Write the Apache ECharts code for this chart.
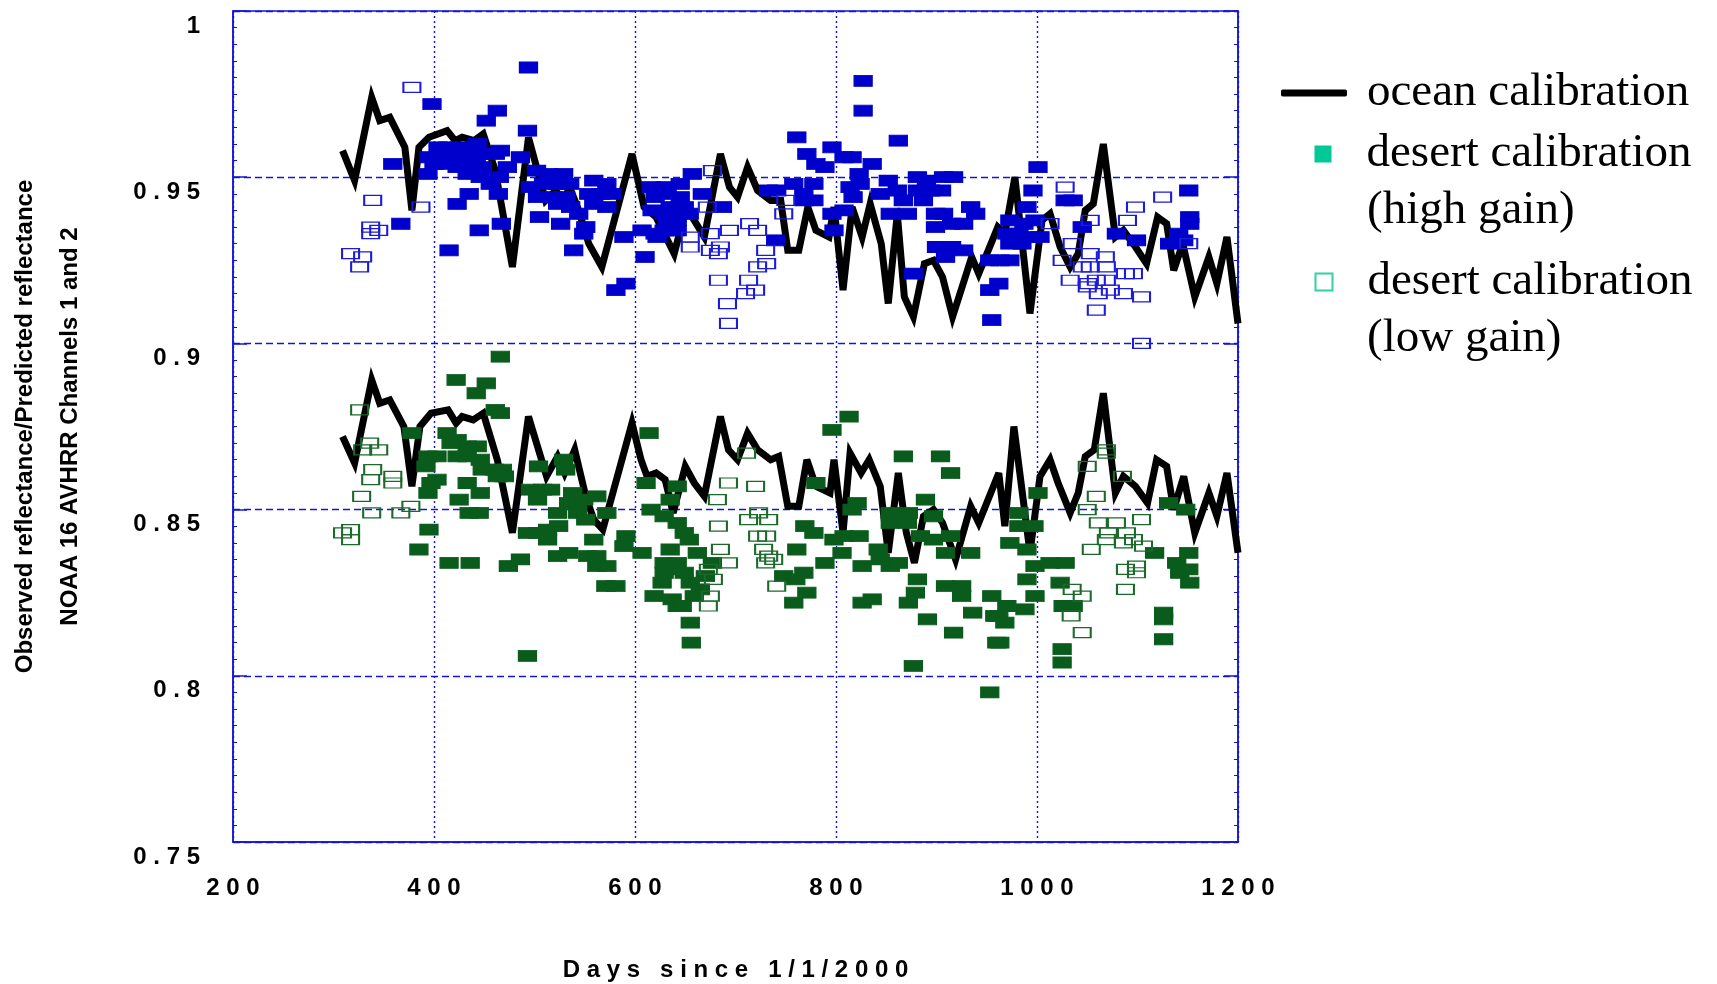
<!DOCTYPE html>
<html>
<head>
<meta charset="utf-8">
<script src="https://cdn.jsdelivr.net/npm/echarts@6/dist/echarts.min.js"></script>
<style>
html,body{margin:0;padding:0;background:#fff;}
#chart{width:1717px;height:984px;}
</style>
</head>
<body>
<div id="chart"></div>
<script>
// ---- data (day since 1/1/2000, observed/predicted reflectance) ----
var xTicks = [200, 400, 600, 800, 1000, 1200];
var yTicks = [0.75, 0.8, 0.85, 0.9, 0.95, 1];

var oceanCh1 = [[309,0.958],[321,0.949],[338,0.974],[346,0.967],[356,0.968],[371,0.959],[378,0.940],[385,0.959],[395,0.962],[413,0.964],[421,0.961],[428,0.962],[440,0.961],[449,0.963],[461,0.952],[478,0.923],[494,0.962],[511,0.943],[521,0.946],[529,0.943],[535,0.947],[544,0.940],[554,0.930],[567,0.923],[597,0.957],[609,0.941],[621,0.938],[639,0.927],[651,0.941],[669,0.932],[685,0.957],[694,0.947],[702,0.944],[712,0.953],[722,0.946],[735,0.943],[745,0.943],[752,0.928],[763,0.928],[772,0.941],[780,0.934],[793,0.932],[798,0.941],[807,0.916],[816,0.941],[826,0.932],[834,0.942],[845,0.930],[852,0.912],[861,0.939],[868,0.914],[877,0.908],[888,0.924],[897,0.925],[906,0.920],[916,0.908],[935,0.926],[942,0.921],[961,0.935],[968,0.933],[978,0.950],[993,0.909],[1005,0.937],[1013,0.939],[1023,0.929],[1033,0.923],[1041,0.927],[1048,0.940],[1056,0.942],[1066,0.960],[1078,0.932],[1086,0.934],[1098,0.929],[1109,0.924],[1120,0.938],[1129,0.936],[1136,0.922],[1145,0.930],[1157,0.914],[1171,0.926],[1179,0.918],[1189,0.932],[1200,0.906]];

var oceanCh2 = [[309,0.872],[321,0.864],[338,0.889],[346,0.882],[356,0.883],[370,0.875],[378,0.857],[386,0.875],[397,0.879],[414,0.880],[422,0.876],[428,0.878],[439,0.877],[449,0.879],[463,0.865],[478,0.843],[494,0.878],[512,0.860],[523,0.866],[530,0.861],[540,0.868],[551,0.854],[559,0.847],[568,0.844],[597,0.876],[606,0.865],[612,0.860],[621,0.861],[630,0.859],[638,0.849],[650,0.863],[659,0.858],[669,0.854],[685,0.878],[693,0.868],[702,0.865],[712,0.873],[722,0.868],[735,0.865],[743,0.866],[752,0.851],[763,0.851],[771,0.865],[780,0.857],[794,0.855],[798,0.865],[807,0.843],[814,0.867],[825,0.861],[833,0.865],[844,0.857],[852,0.837],[862,0.861],[870,0.843],[878,0.834],[887,0.848],[897,0.850],[906,0.846],[919,0.835],[934,0.851],[942,0.846],[962,0.861],[968,0.845],[977,0.875],[993,0.837],[1003,0.860],[1013,0.865],[1021,0.858],[1033,0.849],[1041,0.855],[1048,0.866],[1057,0.868],[1066,0.885],[1078,0.855],[1086,0.860],[1098,0.857],[1110,0.852],[1119,0.865],[1129,0.863],[1136,0.850],[1146,0.860],[1157,0.843],[1171,0.855],[1179,0.848],[1189,0.861],[1200,0.837]];

var desertHighCh1 = [[494,0.983],[398,0.972],[463,0.970],[452,0.967],[493,0.964],[443,0.960],[404,0.959],[414,0.959],[425,0.959],[435,0.958],[395,0.956],[407,0.956],[418,0.956],[430,0.956],[442,0.956],[450,0.957],[400,0.954],[412,0.954],[423,0.953],[437,0.954],[448,0.953],[394,0.951],[466,0.958],[461,0.957],[486,0.956],[473,0.953],[465,0.950],[359,0.954],[433,0.951],[446,0.950],[456,0.948],[435,0.945],[464,0.945],[423,0.942],[367,0.936],[445,0.934],[467,0.936],[415,0.928],
[502,0.952],[514,0.951],[529,0.951],[496,0.947],[509,0.948],[523,0.948],[535,0.948],[503,0.944],[518,0.944],[531,0.944],[505,0.938],[523,0.942],[536,0.941],[526,0.936],[544,0.939],[551,0.935],[549,0.933],[539,0.928],[559,0.949],[572,0.948],[554,0.945],[566,0.945],[577,0.945],[559,0.942],[572,0.941],[589,0.932],[581,0.916],[591,0.918],[610,0.926],[616,0.947],[630,0.947],[617,0.940],[629,0.939],[639,0.938],[607,0.934],[620,0.933],[632,0.936],[642,0.934],
[827,0.979],[827,0.970],[761,0.962],[771,0.957],[796,0.959],[780,0.954],[789,0.953],[808,0.956],[816,0.956],[836,0.954],[862,0.961],[823,0.951],[814,0.947],[817,0.944],[824,0.948],[657,0.951],[645,0.948],[620,0.944],[632,0.945],[645,0.944],[667,0.945],[635,0.941],[649,0.941],[642,0.937],[654,0.939],[629,0.934],[640,0.934],[622,0.932],[687,0.941],[733,0.946],[741,0.946],[758,0.948],[778,0.948],[768,0.945],[778,0.943],[768,0.943],[740,0.931],[796,0.939],[798,0.934],[808,0.940],[852,0.949],[844,0.945],[861,0.946],[881,0.950],[890,0.949],[907,0.950],[917,0.950],[881,0.946],[894,0.946],[905,0.946],[867,0.943],[887,0.943],[854,0.939],[871,0.939],[899,0.939],[907,0.939],[934,0.941],[939,0.939],[899,0.935],[915,0.936],[927,0.936],[900,0.929],[915,0.929],[927,0.928],[909,0.926],[877,0.921],[953,0.925],[953,0.916],[955,0.907],
[1001,0.953],[996,0.946],[1028,0.943],[1036,0.943],[990,0.941],[973,0.937],[987,0.936],[998,0.937],[970,0.933],[982,0.933],[995,0.932],[1003,0.932],[973,0.930],[985,0.930],[963,0.925],[973,0.925],[962,0.918],[1045,0.935],[1151,0.946],[1152,0.938],[1152,0.936],[1141,0.933],[1132,0.930],[1146,0.931],[1079,0.933],[1099,0.931]];

var desertLowCh1 = [[378,0.977],[339,0.943],[387,0.941],[337,0.935],[345,0.934],[337,0.933],[317,0.927],[329,0.926],[326,0.923],
[677,0.952],[672,0.941],[750,0.943],[748,0.939],[714,0.936],[694,0.934],[722,0.934],[675,0.933],[655,0.932],[655,0.929],[675,0.928],[685,0.929],[683,0.927],[730,0.928],[731,0.924],[722,0.923],[683,0.919],[713,0.919],[710,0.915],[720,0.916],[692,0.912],[693,0.906],
[1028,0.947],[1013,0.936],[1053,0.937],[1090,0.937],[1098,0.941],[1125,0.944],[1035,0.930],[1025,0.925],[1045,0.923],[1053,0.923],[1068,0.926],[1069,0.923],[1033,0.919],[1051,0.918],[1059,0.919],[1069,0.919],[1061,0.915],[1073,0.916],[1088,0.921],[1096,0.921],[1050,0.917],[1086,0.915],[1104,0.914],[1059,0.910],[1104,0.900],[1053,0.927],[1151,0.930]];

var desertHighCh2 = [[466,0.896],[422,0.889],[452,0.888],[442,0.885],[461,0.880],[466,0.879],[378,0.873],[413,0.873],[423,0.871],[433,0.869],[443,0.869],[417,0.870],[394,0.866],[403,0.866],[423,0.866],[433,0.866],[446,0.865],[392,0.863],[448,0.862],[460,0.862],[468,0.862],[463,0.860],[470,0.860],[403,0.859],[397,0.858],[394,0.855],[433,0.858],[446,0.855],[425,0.853],[435,0.849],[445,0.849],
[504,0.863],[529,0.865],[531,0.862],[496,0.856],[508,0.856],[516,0.856],[503,0.853],[538,0.855],[534,0.852],[523,0.849],[543,0.852],[549,0.853],[562,0.854],[543,0.849],[551,0.847],[572,0.849],[493,0.843],[503,0.843],[513,0.844],[524,0.845],[513,0.841],[614,0.873],[611,0.858],[616,0.850],[629,0.848],[642,0.846],[635,0.853],[642,0.857],[395,0.844],[385,0.838],[415,0.834],[436,0.834],[474,0.833],[486,0.835],[559,0.841],[591,0.842],[589,0.839],[523,0.836],[534,0.837],[553,0.836],[562,0.836],[562,0.833],[572,0.833],[607,0.837],[635,0.838],[629,0.834],[639,0.832],[629,0.831],[627,0.828],[571,0.827],[581,0.827],[619,0.824],[637,0.823],[642,0.821],[493,0.806],
[813,0.878],[796,0.874],[780,0.858],[867,0.866],[904,0.866],[914,0.861],[889,0.853],[649,0.843],[654,0.841],[662,0.837],[642,0.834],[649,0.831],[677,0.834],[655,0.828],[670,0.830],[665,0.826],[659,0.824],[647,0.821],[655,0.816],[656,0.810],[769,0.845],[778,0.843],[761,0.838],[798,0.841],[808,0.842],[823,0.842],[816,0.850],[821,0.852],[789,0.834],[806,0.837],[748,0.830],[768,0.831],[760,0.829],[771,0.825],[758,0.822],[854,0.849],[854,0.846],[872,0.849],[871,0.846],[897,0.848],[884,0.842],[897,0.841],[914,0.842],[909,0.837],[934,0.837],[842,0.838],[844,0.835],[826,0.833],[854,0.833],[862,0.834],[881,0.829],[879,0.825],[872,0.822],[826,0.822],[836,0.823],[909,0.827],[925,0.827],[925,0.824],[891,0.817],[917,0.813],[936,0.819],[955,0.824],[958,0.818],[960,0.810],[877,0.803],[953,0.795],
[1001,0.855],[982,0.849],[982,0.845],[997,0.845],[973,0.840],[990,0.838],[1131,0.852],[1148,0.850],[998,0.833],[1013,0.834],[1028,0.834],[990,0.829],[1023,0.828],[998,0.824],[988,0.820],[970,0.821],[968,0.816],[962,0.818],[1026,0.821],[1036,0.821],[963,0.810],[1025,0.808],[1025,0.804],[1117,0.837],[1151,0.837],[1139,0.834],[1151,0.832],[1142,0.831],[1152,0.828],[1126,0.819],[1126,0.811],[1126,0.817]];

var desertLowCh2 = [[326,0.880],[336,0.870],[329,0.868],[345,0.868],[339,0.862],[337,0.859],[359,0.860],[359,0.858],[328,0.854],[338,0.849],[367,0.849],[377,0.851],[309,0.843],[317,0.844],[317,0.841],
[711,0.867],[693,0.858],[720,0.857],[682,0.853],[683,0.845],[713,0.847],[723,0.849],[733,0.847],[722,0.842],[731,0.842],[728,0.838],[733,0.836],[738,0.835],[730,0.834],[685,0.838],[693,0.834],[741,0.827],[673,0.832],[678,0.829],[675,0.824],[673,0.821],
[1069,0.868],[1069,0.867],[1050,0.863],[1085,0.860],[1059,0.854],[1050,0.850],[1061,0.846],[1079,0.846],[1104,0.847],[1071,0.843],[1089,0.843],[1069,0.841],[1096,0.841],[1106,0.839],[1054,0.838],[1086,0.840],[1088,0.832],[1099,0.833],[1099,0.831],[1088,0.826],[1035,0.826],[1045,0.824],[1034,0.818],[1045,0.813]];

var legendNames = ['ocean calibration', 'desert calibration (high gain)', 'desert calibration (low gain)'];

// ---- styles ----
var BLUE = '#1414d8';
var FILL1 = '#0000cc';
var FILL2 = '#0a5c1c';
var HOLLOW1 = '#1c1cd8';
var HOLLOW2 = '#1b6a2b';
var AX_FONT = 'Liberation Sans, Arial, sans-serif';
var SERIF = 'Liberation Serif, Times New Roman, serif';

function spaced(s) { return String(s).split('').join(' '); }

var chart = echarts.init(document.getElementById('chart'), null, {renderer: 'canvas'});

function lineSeries(data) {
  return {
    type: 'line', name: legendNames[0], data: data,
    showSymbol: false, symbol: 'none', z: 2,
    lineStyle: {color: '#000', width: 7, join: 'miter', miterLimit: 4},
    itemStyle: {color: '#000'}
  };
}
function filledSeries(data, color) {
  return {
    type: 'scatter', name: legendNames[1], data: data, z: 3,
    symbol: 'rect', symbolSize: [18, 11],
    itemStyle: {color: color, borderColor: color, borderWidth: 1, opacity: 1}
  };
}
function hollowSeries(data, color) {
  return {
    type: 'scatter', name: legendNames[2], data: data, z: 4,
    symbol: 'rect', symbolSize: [17, 10],
    itemStyle: {color: 'rgba(255,255,255,0)', borderColor: color, borderWidth: 1.6, opacity: 1}
  };
}

var option = {
  animation: false,
  backgroundColor: '#fff',
  grid: {left: 233, right: 479, top: 11, bottom: 142, outerBoundsMode: 'none', containLabel: false,
    show: true, borderColor: BLUE, borderWidth: 1.5, backgroundColor: 'transparent'},
  xAxis: {
    type: 'value', min: xTicks[0], max: xTicks[xTicks.length - 1], interval: 200,
    name: spaced('Days') + '   ' + spaced('since') + '   ' + spaced('1/1/2000'),
    nameLocation: 'middle', nameGap: 116,
    nameTextStyle: {fontFamily: AX_FONT, fontWeight: 'bold', fontSize: 24, color: '#000'},
    axisLine: {show: true, lineStyle: {color: BLUE, width: 1.5}},
    axisTick: {show: false},
    axisLabel: {margin: 34, fontFamily: AX_FONT, fontWeight: 'bold', fontSize: 24, color: '#000',
      formatter: function (v) { return spaced(v); }},
    splitLine: {show: true, lineStyle: {color: BLUE, width: 1.4, type: [2, 3]}}
  },
  yAxis: [{
    type: 'value', min: yTicks[0], max: yTicks[yTicks.length - 1], interval: 0.05,
    name: 'Observed reflectance/Predicted reflectance\nNOAA 16 AVHRR Channels 1 and 2',
    nameLocation: 'middle', nameRotate: 90, nameGap: 140,
    nameTextStyle: {fontFamily: AX_FONT, fontWeight: 'bold', fontSize: 24, color: '#000', lineHeight: 45},
    axisLine: {show: true, lineStyle: {color: BLUE, width: 1.5}},
    axisTick: {show: true, inside: true, length: 14, lineStyle: {color: BLUE, width: 1.5}},
    minorTick: {show: true, splitNumber: 10, length: 4, lineStyle: {color: BLUE, width: 1}},
    axisLabel: {margin: 33, fontFamily: AX_FONT, fontWeight: 'bold', fontSize: 24, color: '#000',
      verticalAlign: 'top', padding: [3, 0, 0, 0],
      formatter: function (v) { return spaced(Math.round(v * 100) / 100); }},
    splitLine: {show: true, lineStyle: {color: BLUE, width: 1.3, type: [7, 4]}}
  }, {
    type: 'value', position: 'right', min: yTicks[0], max: yTicks[yTicks.length - 1], interval: 0.05,
    axisLine: {show: true, lineStyle: {color: BLUE, width: 1.5}},
    axisTick: {show: true, inside: true, length: 14, lineStyle: {color: BLUE, width: 1.5}},
    minorTick: {show: true, splitNumber: 10, length: 4, lineStyle: {color: BLUE, width: 1}},
    axisLabel: {show: false},
    splitLine: {show: false}
  }],
  legend: [{
    left: 1281, top: 69.5, padding: 0, orient: 'vertical', selectedMode: false,
    itemWidth: 66, itemHeight: 7,
    textStyle: {fontFamily: SERIF, fontSize: 47, color: '#000', padding: [0, 0, 0, 15]},
    data: [{name: legendNames[0], icon: 'roundRect', itemStyle: {color: '#000'}}]
  }, {
    left: 1314.5, top: 130.5, padding: 0, orient: 'vertical', selectedMode: false,
    itemWidth: 17, itemHeight: 17,
    formatter: function () { return 'desert calibration'; },
    textStyle: {fontFamily: SERIF, fontSize: 47, color: '#000', padding: [0, 0, 0, 30]},
    data: [{name: legendNames[1], icon: 'rect', itemStyle: {color: '#00c896', borderWidth: 0}}]
  }, {
    left: 1314.5, top: 258.5, padding: 0, orient: 'vertical', selectedMode: false,
    itemWidth: 17, itemHeight: 17,
    formatter: function () { return 'desert calibration'; },
    textStyle: {fontFamily: SERIF, fontSize: 47, color: '#000', padding: [0, 0, 0, 30]},
    data: [{name: legendNames[2], icon: 'rect', itemStyle: {color: '#fff', borderColor: '#2fd2a4', borderWidth: 2}}]
  }],
  graphic: [
    {type: 'text', left: 1367, top: 187.5, style: {text: '(high gain)', font: '47px ' + SERIF, fill: '#000'}},
    {type: 'text', left: 1367, top: 315.5, style: {text: '(low gain)', font: '47px ' + SERIF, fill: '#000'}}
  ],
  series: [
    lineSeries(oceanCh1),
    lineSeries(oceanCh2),
    filledSeries(desertHighCh1, FILL1),
    filledSeries(desertHighCh2, FILL2),
    hollowSeries(desertLowCh1, HOLLOW1),
    hollowSeries(desertLowCh2, HOLLOW2)
  ]
};
chart.setOption(option);
</script>
</body>
</html>
